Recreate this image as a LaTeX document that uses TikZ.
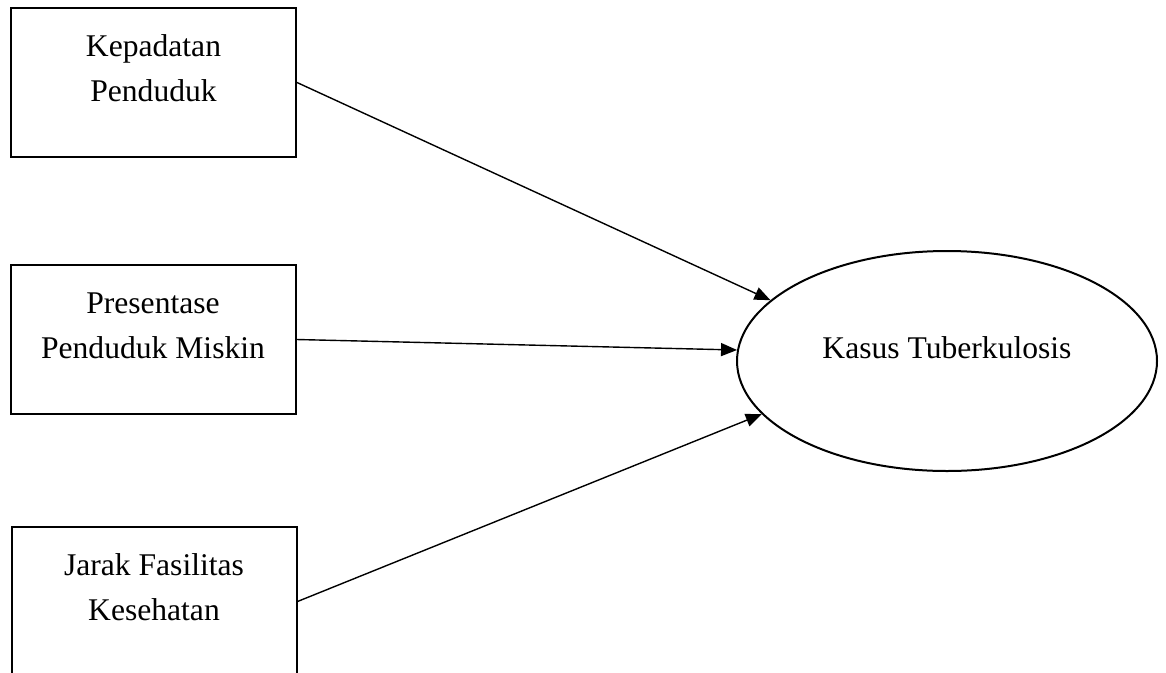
\documentclass[tikz,border=0pt]{standalone}
\usepackage{fontspec}
\setmainfont{Liberation Serif}
\usetikzlibrary{arrows.meta,shapes.geometric}
\begin{document}
\begin{tikzpicture}[x=1pt, y=-1pt, >={Triangle[length=16pt,width=13pt]}]
        \tikzstyle{box}=[draw=black,line width=2pt,rectangle,align=center,inner sep=0pt,minimum width=285pt,minimum height=149pt,text depth=28pt,font=\fontsize{31.6}{45}\selectfont]
        \tikzstyle{target}=[draw=black,line width=2pt,ellipse,inner sep=0pt,minimum width=420pt,minimum height=220pt,text depth=27pt,font=\fontsize{31.6}{45}\selectfont]

        \useasboundingbox (0,0) rectangle (1166,672);

        \node (kp)[box] at (153.5,82.5) {Kepadatan\\Penduduk};
        \node (pm)[box] at (153,339.5) {Presentase\\Penduduk Miskin};
        \node (jf)[box] at (154,601.5) {Jarak Fasilitas\\Kesehatan};
        \node (kt)[target] at (947,361) {Kasus Tuberkulosis};

        \draw[line width=1.4pt, ->] (kp.east) -- (kt.161);
        \draw[line width=1.4pt, ->] (pm.east) -- (kt.177);
        \draw[line width=1.4pt, ->] (jf.east) -- (kt.196);
    \end{tikzpicture}
\end{document}
